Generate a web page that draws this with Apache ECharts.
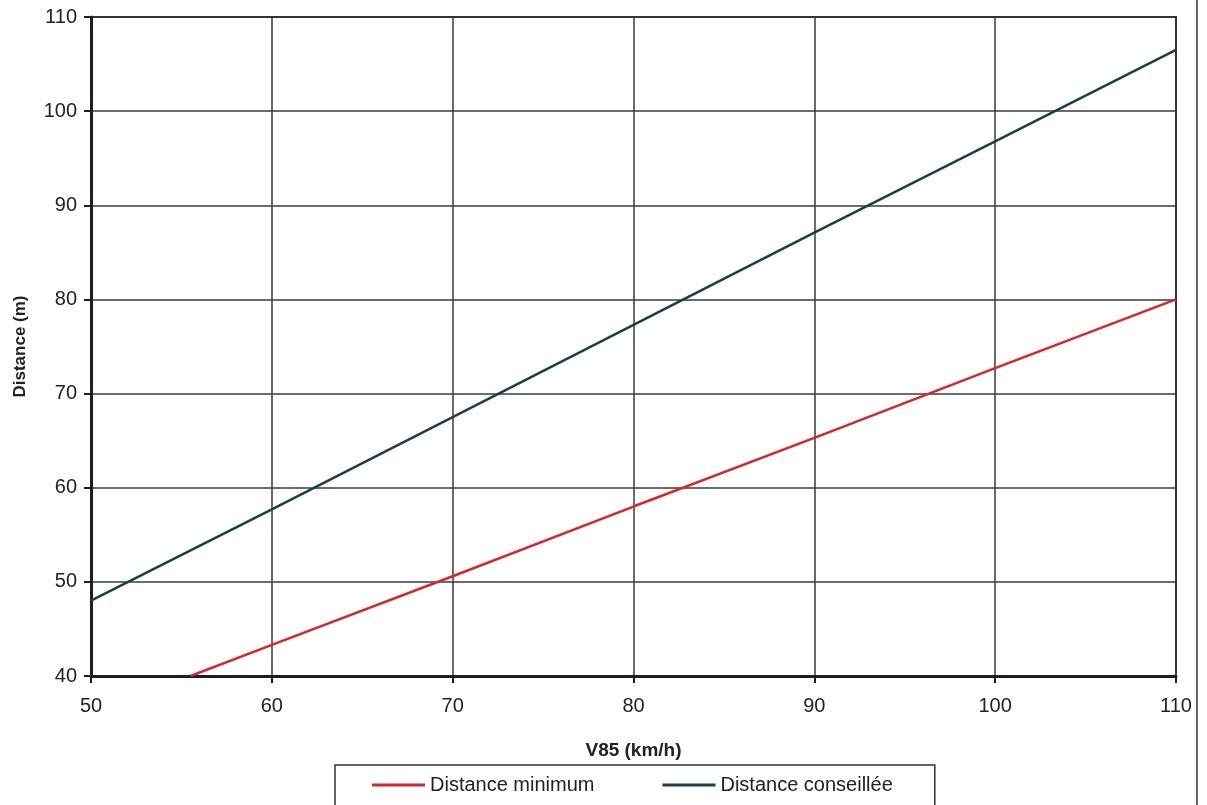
<!DOCTYPE html>
<html>
<head>
<meta charset="utf-8">
<script src="https://cdn.jsdelivr.net/npm/echarts@6/dist/echarts.min.js"></script>
<style>
  html, body { margin: 0; padding: 0; background: #fff; }
  #show_picture { width: 1207px; height: 805px; }
</style>
</head>
<body>
<div id="show_picture"></div>
<script>
// V85 (km/h) against distance (m)
const vMinimum = [55.5, 60, 70, 80, 90, 100, 110];
const dMinimum = [40, 43.3, 50.6, 58, 65.3, 72.7, 80];
const vConseillee = [50, 60, 70, 80, 90, 100, 110];
const dConseillee = [48, 57.7, 67.5, 77.3, 87.1, 96.8, 106.5];
const seriesNames = ['Distance minimum', 'Distance conseillée'];

let show_picture = document.getElementById('show_picture');
let myChart = echarts.init(show_picture);

const font = 'Liberation Sans, Arial, sans-serif';
const dark = '#1c1c2c';

let pairs = (xs, ys) => xs.map((x, i) => [x, ys[i]]);

let option = {
    backgroundColor: '#fff',
    animation: false,
    grid: {
        left: 91,
        right: 31,
        top: 17,
        bottom: 129,
        show: true,
        borderColor: '#2a2a3a',
        borderWidth: 2
    },
    legend: {
        top: 765,
        left: 335,
        data: seriesNames,
        icon: 'rect',
        itemWidth: 53,
        itemHeight: 3,
        itemGap: 68,
        padding: [10, 42, 14, 37],
        borderColor: '#333',
        borderWidth: 1.5,
        textStyle: { fontFamily: font, fontSize: 20, color: '#222' }
    },
    xAxis: {
        type: 'value',
        min: 50,
        max: 110,
        interval: 10,
        name: 'V85 (km/h)',
        nameLocation: 'middle',
        nameGap: 65,
        nameTextStyle: { fontFamily: font, fontSize: 19, fontWeight: 'bold', color: '#222' },
        axisLine: { lineStyle: { color: dark, width: 3 } },
        axisTick: { show: true, length: 7, lineStyle: { color: dark, width: 2 } },
        axisLabel: { fontFamily: font, fontSize: 20, color: '#222', margin: 20 },
        splitLine: { show: true, lineStyle: { color: '#3a3a3a', width: 1.5 } }
    },
    yAxis: {
        type: 'value',
        min: 40,
        max: 110,
        interval: 10,
        name: 'Distance (m)',
        nameLocation: 'middle',
        nameGap: 62,
        nameTextStyle: { fontFamily: font, fontSize: 17, fontWeight: 'bold', color: '#222' },
        axisLine: { show: true, lineStyle: { color: dark, width: 3 } },
        axisTick: { show: true, length: 7, lineStyle: { color: dark, width: 2 } },
        axisLabel: { fontFamily: font, fontSize: 20, color: '#222', margin: 14 },
        splitLine: { show: true, lineStyle: { color: '#3a3a3a', width: 1.5 } }
    },
    graphic: [
        {
            type: 'line',
            shape: { x1: 1197, y1: 0, x2: 1197, y2: 805 },
            style: { stroke: '#333', lineWidth: 1.5 }
        }
    ],
    series: [
        {
            name: seriesNames[0],
            type: 'line',
            data: pairs(vMinimum, dMinimum),
            showSymbol: false,
            color: '#d8262a',
            lineStyle: { width: 2.5, color: '#d8262a' }
        },
        {
            name: seriesNames[1],
            type: 'line',
            data: pairs(vConseillee, dConseillee),
            showSymbol: false,
            color: '#16404a',
            lineStyle: { width: 2.5, color: '#16404a' }
        }
    ]
};

option && myChart.setOption(option);
</script>
</body>
</html>
